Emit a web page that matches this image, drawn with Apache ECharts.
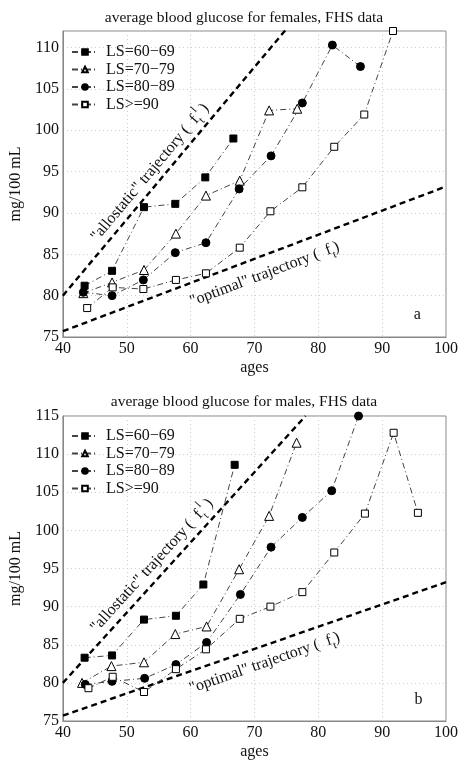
<!DOCTYPE html>
<html>
<head>
<meta charset="utf-8">
<script src="https://cdn.jsdelivr.net/npm/echarts@6/dist/echarts.min.js"></script>
<style>html,body{margin:0;padding:0;background:#fff;}#c{width:461px;height:762px;}</style>
</head>
<body>
<div id="c"></div>
<script>
// ---- data ----
const seriesNames = ['LS=60\u221269', 'LS=70\u221279', 'LS=80\u221289', 'LS>=90'];

const femAge60 = [43.4, 47.7, 52.7, 57.6, 62.3, 66.7];
const femVal60 = [81.2, 83.0, 90.7, 91.1, 94.3, 99.0];
const femAge70 = [43.2, 47.7, 52.7, 57.7, 62.4, 67.7, 72.3, 76.7];
const femVal70 = [80.3, 81.6, 83.1, 87.5, 92.1, 93.9, 102.4, 102.6];
const femAge80 = [43.2, 47.7, 52.6, 57.6, 62.4, 67.6, 72.6, 77.5, 82.2, 86.6];
const femVal80 = [80.4, 80.0, 81.9, 85.2, 86.4, 92.9, 96.9, 103.3, 110.3, 107.7];
const femAge90 = [43.8, 47.8, 52.6, 57.7, 62.4, 67.7, 72.5, 77.5, 82.5, 87.2, 91.7];
const femVal90 = [78.5, 81.0, 80.8, 81.9, 82.7, 85.8, 90.2, 93.1, 98.0, 101.9, 112.0];

const malAge60 = [43.4, 47.7, 52.7, 57.7, 62.0, 66.9];
const malVal60 = [83.3, 83.6, 88.3, 88.8, 92.9, 108.6];
const malAge70 = [43.0, 47.6, 52.7, 57.6, 62.5, 67.6, 72.3, 76.6];
const malVal70 = [80.0, 82.2, 82.7, 86.4, 87.4, 94.9, 101.9, 111.5];
const malAge80 = [43.5, 47.7, 52.8, 57.7, 62.5, 67.8, 72.6, 77.5, 82.1, 86.3];
const malVal80 = [79.8, 80.2, 80.6, 82.4, 85.3, 91.6, 97.8, 101.7, 105.2, 115.0];
const malAge90 = [44.0, 47.8, 52.7, 57.7, 62.4, 67.7, 72.5, 77.5, 82.5, 87.3, 91.8, 95.6];
const malVal90 = [79.3, 80.8, 78.8, 81.8, 84.4, 88.4, 90.0, 91.9, 97.1, 102.2, 112.8, 102.3];

// trajectory lines (end points)
const allostaticAge = [40, 78];
const allostaticVal = [80, 115];
const optimalAge = [40, 100];
const optimalVal = [75.7, 93.2];

const xTicks = [40, 50, 60, 70, 80, 90, 100];
const yTicksTop = [75, 80, 85, 90, 95, 100, 105, 110];
const yTicksBottom = [75, 80, 85, 90, 95, 100, 105, 110, 115];

const titles = ['average blood glucose for females, FHS data', 'average blood glucose for males, FHS data'];
const panelLetters = ['a', 'b'];

// ---- chart ----
const FONT = 'Liberation Serif, Times New Roman, serif';
const zip = (a, b) => a.map((v, i) => [v, b[i]]);

const chart = echarts.init(document.getElementById('c'), null, {renderer: 'canvas'});

const markerDefs = [
  {symbol: 'rect', size: 7, fill: '#000'},
  {symbol: 'triangle', size: 9, fill: '#fff'},
  {symbol: 'circle', size: 8, fill: '#000'},
  {symbol: 'rect', size: 7, fill: '#fff'}
];
const dashDot = [6, 3, 1, 3];

function dataSeries(name, idx, ages, vals, gi) {
  const m = markerDefs[idx];
  return {
    name: name, type: 'line', xAxisIndex: gi, yAxisIndex: gi,
    data: zip(ages, vals),
    symbol: m.symbol, symbolSize: m.size, showAllSymbol: true,
    itemStyle: {color: m.fill, borderColor: '#000', borderWidth: 1},
    lineStyle: {color: '#444', width: 1, type: dashDot},
    emphasis: {disabled: true}, z: 3
  };
}
function trajSeries(name, ages, vals, gi) {
  return {
    name: name, type: 'line', xAxisIndex: gi, yAxisIndex: gi,
    data: zip(ages, vals), symbol: 'none', silent: true,
    lineStyle: {color: '#000', width: 2.4, type: [6, 4]}, z: 2
  };
}

function xAxisDef(gi) {
  return {
    type: 'value', gridIndex: gi, min: 40, max: 100, interval: 10,
    name: 'ages', nameLocation: 'middle', nameGap: 23,
    nameTextStyle: {fontFamily: FONT, fontSize: 16, color: '#111'},
    axisLine: {show: true, onZero: false, lineStyle: {color: '#888'}},
    axisTick: {show: false},
    axisLabel: {fontFamily: FONT, fontSize: 16, color: '#111', margin: 4},
    splitLine: {show: true, lineStyle: {color: '#ccc', type: [1, 3]}}
  };
}
function yAxisDef(gi, min, max) {
  return {
    type: 'value', gridIndex: gi, min: min, max: max, interval: 5,
    name: 'mg/100 mL', nameLocation: 'middle', nameGap: 38,
    nameTextStyle: {fontFamily: FONT, fontSize: 16, color: '#111'},
    axisLine: {show: true, onZero: false, lineStyle: {color: '#888'}},
    axisTick: {show: false},
    axisLabel: {fontFamily: FONT, fontSize: 16, color: '#111', margin: 4,
      formatter: v => (v % 5 === 0 ? String(v) : '')},
    splitLine: {show: true, lineStyle: {color: '#ccc', type: [1, 3]}}
  };
}
function legendDef(top) {
  return {
    data: seriesNames, left: 66, top: top, orient: 'vertical', itemGap: 1.5,
    itemWidth: 26, itemHeight: 7, selectedMode: false,
    textStyle: {fontFamily: FONT, fontSize: 16, color: '#111', padding: [0, 0, 0, 3]}
  };
}

const option = {
  animation: false,
  backgroundColor: '#fff',
  title: [
    {text: titles[0], left: 239, textAlign: 'center', top: 5,
      textStyle: {fontFamily: FONT, fontSize: 15.5, fontWeight: 'normal', color: '#111'}},
    {text: titles[1], left: 239, textAlign: 'center', top: 389,
      textStyle: {fontFamily: FONT, fontSize: 15.5, fontWeight: 'normal', color: '#111'}}
  ],
  legend: [legendDef(39), legendDef(423)],
  grid: [
    {left: 58, top: 31, width: 391, height: 306, show: true, borderColor: '#888', borderWidth: 1, backgroundColor: 'transparent'},
    {left: 58, top: 416, width: 391, height: 305, show: true, borderColor: '#888', borderWidth: 1, backgroundColor: 'transparent'}
  ],
  xAxis: [xAxisDef(0), xAxisDef(1)],
  yAxis: [yAxisDef(0, 75, 112), yAxisDef(1, 75, 115)],
  series: [
    trajSeries('allostatic', allostaticAge, allostaticVal, 0),
    trajSeries('optimal', optimalAge, optimalVal, 0),
    dataSeries(seriesNames[0], 0, femAge60, femVal60, 0),
    dataSeries(seriesNames[1], 1, femAge70, femVal70, 0),
    dataSeries(seriesNames[2], 2, femAge80, femVal80, 0),
    dataSeries(seriesNames[3], 3, femAge90, femVal90, 0),
    trajSeries('allostatic', allostaticAge, allostaticVal, 1),
    trajSeries('optimal', optimalAge, optimalVal, 1),
    dataSeries(seriesNames[0], 0, malAge60, malVal60, 1),
    dataSeries(seriesNames[1], 1, malAge70, malVal70, 1),
    dataSeries(seriesNames[2], 2, malAge80, malVal80, 1),
    dataSeries(seriesNames[3], 3, malAge90, malVal90, 1)
  ]
};
chart.setOption(option);

// ---- annotations placed via axis conversion ----
const rich = {
  f: {fontFamily: FONT, fontSize: 16, fill: '#111', lineHeight: 24},
  sub: {fontFamily: FONT, fontSize: 11, fill: '#111', lineHeight: 11, verticalAlign: 'bottom'},
  sup: {fontFamily: FONT, fontSize: 11, fill: '#111', lineHeight: 11, verticalAlign: 'top'}
};
function angleOf(gi, ages, vals) {
  const p0 = chart.convertToPixel({gridIndex: gi}, [ages[0], vals[0]]);
  const p1 = chart.convertToPixel({gridIndex: gi}, [ages[1], vals[1]]);
  return Math.atan2(-(p1[1] - p0[1]), p1[0] - p0[0]);
}
function textAt(gi, pos, rotation, text) {
  const p = chart.convertToPixel({gridIndex: gi}, pos);
  return {
    type: 'text', x: p[0], y: p[1], rotation: rotation, silent: true, z: 10,
    style: {text: text, align: 'center', verticalAlign: 'middle', rich: rich,
      font: '16px ' + FONT, fill: '#111'}
  };
}
const alloText = '{f|"allostatic" trajectory (  f}{sub|t}{sup|l}{f| )}';
const optText = '{f|"optimal" trajectory (  f}{sub|t}{f|)}';
const alloPos = [[53.65, 94.9], [53.95, 95.4]];
const optPos = [[71.6, 82.6], [71.6, 82.6]];
const letterPos = [[95.5, 77.7], [95.7, 77.75]];
const graphics = [];
[0, 1].forEach(gi => {
  graphics.push(textAt(gi, alloPos[gi], angleOf(gi, allostaticAge, allostaticVal), alloText));
  graphics.push(textAt(gi, optPos[gi], angleOf(gi, optimalAge, optimalVal), optText));
  const lp = chart.convertToPixel({gridIndex: gi}, letterPos[gi]);
  graphics.push({type: 'text', x: lp[0], y: lp[1], silent: true,
    style: {text: panelLetters[gi], align: 'center', verticalAlign: 'middle', font: '16px ' + FONT, fill: '#111'}});
});
chart.setOption({graphic: graphics});
</script>
</body>
</html>
